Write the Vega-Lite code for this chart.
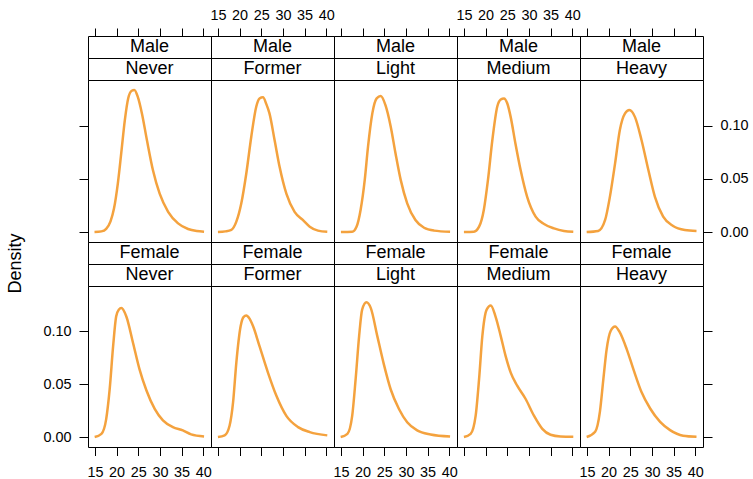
{
"$schema":"https://vega.github.io/schema/vega-lite/v6.json",
"padding":{"left":5,"top":6,"right":5,"bottom":5},
"config":{
 "view":{"stroke":"black","strokeWidth":1},
 "font":"Liberation Sans",
 "axis":{"domain":false,"grid":false,"tickColor":"black","tickWidth":1,"labelColor":"black","labelFontSize":14.4,"labelFont":"Liberation Sans","labelFlush":false,"labelOverlap":false,"labelBound":false,"titleFont":"Liberation Sans","titleFontSize":18,"titleFontWeight":"normal","titleColor":"black"},
 "axisX":{"tickSize":8,"labelPadding":6},
 "axisY":{"tickSize":9,"labelPadding":8,"format":".2f"},
 "line":{"color":"#F4A23E","strokeWidth":2.5,"interpolate":"monotone"},
 "text":{"fontSize":18,"font":"Liberation Sans","color":"black","baseline":"middle","align":"center"}
},
"datasets":{"d":[
{"s":"Male","k":"Never","x":14.9,"y":0},{"s":"Male","k":"Never","x":16.5,"y":0.0006},{"s":"Male","k":"Never","x":17.6,"y":0.003},{"s":"Male","k":"Never","x":18.6,"y":0.01},{"s":"Male","k":"Never","x":19.4,"y":0.022},{"s":"Male","k":"Never","x":20.3,"y":0.046},{"s":"Male","k":"Never","x":21.1,"y":0.075},{"s":"Male","k":"Never","x":21.9,"y":0.105},{"s":"Male","k":"Never","x":22.7,"y":0.126},{"s":"Male","k":"Never","x":23.5,"y":0.1328},{"s":"Male","k":"Never","x":24.1,"y":0.1335},{"s":"Male","k":"Never","x":24.9,"y":0.127},{"s":"Male","k":"Never","x":25.85,"y":0.1115},{"s":"Male","k":"Never","x":27.0,"y":0.0865},{"s":"Male","k":"Never","x":28.4,"y":0.058},{"s":"Male","k":"Never","x":29.95,"y":0.036},{"s":"Male","k":"Never","x":31.9,"y":0.019},{"s":"Male","k":"Never","x":34.2,"y":0.0081},{"s":"Male","k":"Never","x":36.5,"y":0.0028},{"s":"Male","k":"Never","x":38.5,"y":0.0009},{"s":"Male","k":"Never","x":40.2,"y":0.0003},
{"s":"Male","k":"Former","x":15.0,"y":0},{"s":"Male","k":"Former","x":16.7,"y":0.0006},{"s":"Male","k":"Former","x":18.1,"y":0.002},{"s":"Male","k":"Former","x":19.25,"y":0.0097},{"s":"Male","k":"Former","x":20.4,"y":0.027},{"s":"Male","k":"Former","x":21.55,"y":0.055},{"s":"Male","k":"Former","x":22.7,"y":0.0896},{"s":"Male","k":"Former","x":23.86,"y":0.118},{"s":"Male","k":"Former","x":24.6,"y":0.1255},{"s":"Male","k":"Former","x":25.4,"y":0.1266},{"s":"Male","k":"Former","x":26.2,"y":0.12},{"s":"Male","k":"Former","x":26.9,"y":0.1115},{"s":"Male","k":"Former","x":28.1,"y":0.086},{"s":"Male","k":"Former","x":29.25,"y":0.061},{"s":"Male","k":"Former","x":30.8,"y":0.036},{"s":"Male","k":"Former","x":32.7,"y":0.019},{"s":"Male","k":"Former","x":34.6,"y":0.0113},{"s":"Male","k":"Former","x":36.2,"y":0.005},{"s":"Male","k":"Former","x":38.1,"y":0.0013},{"s":"Male","k":"Former","x":40.25,"y":0.0002},
{"s":"Male","k":"Light","x":15.0,"y":0},{"s":"Male","k":"Light","x":17.6,"y":0.0003},{"s":"Male","k":"Light","x":18.6,"y":0.005},{"s":"Male","k":"Light","x":19.55,"y":0.021},{"s":"Male","k":"Light","x":20.5,"y":0.049},{"s":"Male","k":"Light","x":21.25,"y":0.08},{"s":"Male","k":"Light","x":22.25,"y":0.1115},{"s":"Male","k":"Light","x":23.25,"y":0.1256},{"s":"Male","k":"Light","x":24.2,"y":0.1278},{"s":"Male","k":"Light","x":25.3,"y":0.119},{"s":"Male","k":"Light","x":26.5,"y":0.099},{"s":"Male","k":"Light","x":27.6,"y":0.074},{"s":"Male","k":"Light","x":28.8,"y":0.049},{"s":"Male","k":"Light","x":30.3,"y":0.027},{"s":"Male","k":"Light","x":32.2,"y":0.0113},{"s":"Male","k":"Light","x":34.2,"y":0.004},{"s":"Male","k":"Light","x":36.5,"y":0.0013},{"s":"Male","k":"Light","x":40.2,"y":0.0002},
{"s":"Male","k":"Medium","x":15.0,"y":0},{"s":"Male","k":"Medium","x":17.3,"y":0.0003},{"s":"Male","k":"Medium","x":18.5,"y":0.005},{"s":"Male","k":"Medium","x":19.6,"y":0.021},{"s":"Male","k":"Medium","x":20.55,"y":0.049},{"s":"Male","k":"Medium","x":21.55,"y":0.086},{"s":"Male","k":"Medium","x":22.7,"y":0.118},{"s":"Male","k":"Medium","x":23.5,"y":0.1245},{"s":"Male","k":"Medium","x":24.25,"y":0.1256},{"s":"Male","k":"Medium","x":25.0,"y":0.121},{"s":"Male","k":"Medium","x":25.8,"y":0.108},{"s":"Male","k":"Medium","x":26.9,"y":0.083},{"s":"Male","k":"Medium","x":28.1,"y":0.058},{"s":"Male","k":"Medium","x":29.6,"y":0.033},{"s":"Male","k":"Medium","x":31.55,"y":0.0144},{"s":"Male","k":"Medium","x":33.5,"y":0.0075},{"s":"Male","k":"Medium","x":35.8,"y":0.0034},{"s":"Male","k":"Medium","x":38.1,"y":0.001},{"s":"Male","k":"Medium","x":40.25,"y":0.0002},
{"s":"Male","k":"Heavy","x":14.94,"y":0},{"s":"Male","k":"Heavy","x":17.6,"y":0.001},{"s":"Male","k":"Heavy","x":19.2,"y":0.0113},{"s":"Male","k":"Heavy","x":20.3,"y":0.033},{"s":"Male","k":"Heavy","x":21.5,"y":0.0645},{"s":"Male","k":"Heavy","x":22.6,"y":0.0959},{"s":"Male","k":"Heavy","x":23.8,"y":0.1115},{"s":"Male","k":"Heavy","x":24.8,"y":0.1147},{"s":"Male","k":"Heavy","x":26.1,"y":0.108},{"s":"Male","k":"Heavy","x":27.6,"y":0.0865},{"s":"Male","k":"Heavy","x":29.2,"y":0.058},{"s":"Male","k":"Heavy","x":30.7,"y":0.033},{"s":"Male","k":"Heavy","x":32.6,"y":0.0144},{"s":"Male","k":"Heavy","x":34.9,"y":0.0056},{"s":"Male","k":"Heavy","x":37.6,"y":0.0019},{"s":"Male","k":"Heavy","x":40.3,"y":0.001},
{"s":"Female","k":"Never","x":14.94,"y":0},{"s":"Female","k":"Never","x":16.5,"y":0.003},{"s":"Female","k":"Never","x":17.6,"y":0.017},{"s":"Female","k":"Never","x":18.4,"y":0.045},{"s":"Female","k":"Never","x":19.2,"y":0.086},{"s":"Female","k":"Never","x":19.9,"y":0.114},{"s":"Female","k":"Never","x":20.5,"y":0.1205},{"s":"Female","k":"Never","x":21.1,"y":0.122},{"s":"Female","k":"Never","x":22.25,"y":0.114},{"s":"Female","k":"Never","x":23.8,"y":0.089},{"s":"Female","k":"Never","x":25.3,"y":0.064},{"s":"Female","k":"Never","x":26.9,"y":0.044},{"s":"Female","k":"Never","x":28.8,"y":0.0266},{"s":"Female","k":"Never","x":30.7,"y":0.0157},{"s":"Female","k":"Never","x":33.0,"y":0.0094},{"s":"Female","k":"Never","x":35.3,"y":0.0063},{"s":"Female","k":"Never","x":37.2,"y":0.0025},{"s":"Female","k":"Never","x":40.2,"y":0.0006},
{"s":"Female","k":"Former","x":15.0,"y":0},{"s":"Female","k":"Former","x":16.55,"y":0.0016},{"s":"Female","k":"Former","x":17.7,"y":0.011},{"s":"Female","k":"Former","x":18.5,"y":0.033},{"s":"Female","k":"Former","x":19.25,"y":0.0705},{"s":"Female","k":"Former","x":20.25,"y":0.105},{"s":"Female","k":"Former","x":20.9,"y":0.1135},{"s":"Female","k":"Former","x":21.55,"y":0.115},{"s":"Female","k":"Former","x":22.3,"y":0.112},{"s":"Female","k":"Former","x":23.1,"y":0.105},{"s":"Female","k":"Former","x":24.6,"y":0.086},{"s":"Female","k":"Former","x":26.55,"y":0.061},{"s":"Female","k":"Former","x":28.5,"y":0.039},{"s":"Female","k":"Former","x":30.8,"y":0.02},{"s":"Female","k":"Former","x":33.5,"y":0.0094},{"s":"Female","k":"Former","x":36.2,"y":0.0047},{"s":"Female","k":"Former","x":40.25,"y":0.0016},
{"s":"Female","k":"Light","x":14.94,"y":0},{"s":"Female","k":"Light","x":16.5,"y":0.003},{"s":"Female","k":"Light","x":17.6,"y":0.02},{"s":"Female","k":"Light","x":18.4,"y":0.055},{"s":"Female","k":"Light","x":19.2,"y":0.0955},{"s":"Female","k":"Light","x":19.9,"y":0.1206},{"s":"Female","k":"Light","x":20.9,"y":0.1275},{"s":"Female","k":"Light","x":21.9,"y":0.122},{"s":"Female","k":"Light","x":23.4,"y":0.0955},{"s":"Female","k":"Light","x":24.9,"y":0.069},{"s":"Female","k":"Light","x":26.5,"y":0.045},{"s":"Female","k":"Light","x":28.4,"y":0.0266},{"s":"Female","k":"Light","x":30.3,"y":0.014},{"s":"Female","k":"Light","x":32.6,"y":0.0063},{"s":"Female","k":"Light","x":35.7,"y":0.0025},{"s":"Female","k":"Light","x":40.2,"y":0.0006},
{"s":"Female","k":"Medium","x":15.0,"y":0},{"s":"Female","k":"Medium","x":16.55,"y":0.003},{"s":"Female","k":"Medium","x":17.7,"y":0.02},{"s":"Female","k":"Medium","x":18.5,"y":0.055},{"s":"Female","k":"Medium","x":19.25,"y":0.0955},{"s":"Female","k":"Medium","x":20.25,"y":0.1206},{"s":"Female","k":"Medium","x":21.2,"y":0.1244},{"s":"Female","k":"Medium","x":22.3,"y":0.114},{"s":"Female","k":"Medium","x":23.5,"y":0.0955},{"s":"Female","k":"Medium","x":24.6,"y":0.077},{"s":"Female","k":"Medium","x":25.8,"y":0.061},{"s":"Female","k":"Medium","x":27.3,"y":0.0486},{"s":"Female","k":"Medium","x":29.25,"y":0.036},{"s":"Female","k":"Medium","x":31.2,"y":0.02},{"s":"Female","k":"Medium","x":33.1,"y":0.0078},{"s":"Female","k":"Medium","x":35.0,"y":0.0022},{"s":"Female","k":"Medium","x":37.3,"y":0.0006},{"s":"Female","k":"Medium","x":40.25,"y":0.0003},
{"s":"Female","k":"Heavy","x":14.94,"y":0},{"s":"Female","k":"Heavy","x":16.9,"y":0.005},{"s":"Female","k":"Heavy","x":18.0,"y":0.024},{"s":"Female","k":"Heavy","x":18.8,"y":0.055},{"s":"Female","k":"Heavy","x":19.55,"y":0.083},{"s":"Female","k":"Heavy","x":20.5,"y":0.1006},{"s":"Female","k":"Heavy","x":21.5,"y":0.1046},{"s":"Female","k":"Heavy","x":22.6,"y":0.099},{"s":"Female","k":"Heavy","x":24.2,"y":0.083},{"s":"Female","k":"Heavy","x":25.7,"y":0.0645},{"s":"Female","k":"Heavy","x":27.6,"y":0.0426},{"s":"Female","k":"Heavy","x":29.6,"y":0.027},{"s":"Female","k":"Heavy","x":31.9,"y":0.0144},{"s":"Female","k":"Heavy","x":34.2,"y":0.0066},{"s":"Female","k":"Heavy","x":37.2,"y":0.0013},{"s":"Female","k":"Heavy","x":40.3,"y":0.0003}
]},
"columns":5,"spacing":0,"bounds":"flush",
"concat":[
  {"width":123,"height":22,"view":{"style":"cell","stroke":"black","strokeWidth":1},"data":{"values":[{"label":"Male"}]},"mark":"text","encoding":{"text":{"field":"label"}}},
  {"width":123,"height":22,"view":{"style":"cell","stroke":"black","strokeWidth":1},"data":{"values":[{"label":"Male"}]},"mark":"text","encoding":{"text":{"field":"label"}}},
  {"width":123,"height":22,"view":{"style":"cell","stroke":"black","strokeWidth":1},"data":{"values":[{"label":"Male"}]},"mark":"text","encoding":{"text":{"field":"label"}}},
  {"width":123,"height":22,"view":{"style":"cell","stroke":"black","strokeWidth":1},"data":{"values":[{"label":"Male"}]},"mark":"text","encoding":{"text":{"field":"label"}}},
  {"width":123,"height":22,"view":{"style":"cell","stroke":"black","strokeWidth":1},"data":{"values":[{"label":"Male"}]},"mark":"text","encoding":{"text":{"field":"label"}}},
  {"width":123,"height":22,"view":{"style":"cell","stroke":"black","strokeWidth":1},"data":{"values":[{"label":"Never"}]},"mark":"text","encoding":{"text":{"field":"label"}}},
  {"width":123,"height":22,"view":{"style":"cell","stroke":"black","strokeWidth":1},"data":{"values":[{"label":"Former"}]},"mark":"text","encoding":{"text":{"field":"label"}}},
  {"width":123,"height":22,"view":{"style":"cell","stroke":"black","strokeWidth":1},"data":{"values":[{"label":"Light"}]},"mark":"text","encoding":{"text":{"field":"label"}}},
  {"width":123,"height":22,"view":{"style":"cell","stroke":"black","strokeWidth":1},"data":{"values":[{"label":"Medium"}]},"mark":"text","encoding":{"text":{"field":"label"}}},
  {"width":123,"height":22,"view":{"style":"cell","stroke":"black","strokeWidth":1},"data":{"values":[{"label":"Heavy"}]},"mark":"text","encoding":{"text":{"field":"label"}}},
  {"width":123,"height":162,"data":{"name":"d"},"transform":[{"filter":"datum.s==='Male' && datum.k==='Never'"}],"mark":"line",
   "encoding":{"x":{"field":"x","type":"quantitative","scale":{"domain":[13.4,41.8],"nice":false,"zero":false},"axis":{"orient":"top","offset":44,"values":[15,20,25,30,35,40],"labels":false,"title":null}},
   "y":{"field":"y","type":"quantitative","scale":{"domain":[-0.0094,0.1429],"nice":false,"zero":false},"axis":{"orient":"left","values":[0,0.05,0.1],"labels":false,"title":null}}}},
  {"width":123,"height":162,"data":{"name":"d"},"transform":[{"filter":"datum.s==='Male' && datum.k==='Former'"}],"mark":"line",
   "encoding":{"x":{"field":"x","type":"quantitative","scale":{"domain":[13.4,41.8],"nice":false,"zero":false},"axis":{"orient":"top","offset":44,"values":[15,20,25,30,35,40],"labels":true,"title":null}},
   "y":{"field":"y","type":"quantitative","scale":{"domain":[-0.0094,0.1429],"nice":false,"zero":false},"axis":null}}},
  {"width":123,"height":162,"data":{"name":"d"},"transform":[{"filter":"datum.s==='Male' && datum.k==='Light'"}],"mark":"line",
   "encoding":{"x":{"field":"x","type":"quantitative","scale":{"domain":[13.4,41.8],"nice":false,"zero":false},"axis":{"orient":"top","offset":44,"values":[15,20,25,30,35,40],"labels":false,"title":null}},
   "y":{"field":"y","type":"quantitative","scale":{"domain":[-0.0094,0.1429],"nice":false,"zero":false},"axis":null}}},
  {"width":123,"height":162,"data":{"name":"d"},"transform":[{"filter":"datum.s==='Male' && datum.k==='Medium'"}],"mark":"line",
   "encoding":{"x":{"field":"x","type":"quantitative","scale":{"domain":[13.4,41.8],"nice":false,"zero":false},"axis":{"orient":"top","offset":44,"values":[15,20,25,30,35,40],"labels":true,"title":null}},
   "y":{"field":"y","type":"quantitative","scale":{"domain":[-0.0094,0.1429],"nice":false,"zero":false},"axis":null}}},
  {"width":123,"height":162,"data":{"name":"d"},"transform":[{"filter":"datum.s==='Male' && datum.k==='Heavy'"}],"mark":"line",
   "encoding":{"x":{"field":"x","type":"quantitative","scale":{"domain":[13.4,41.8],"nice":false,"zero":false},"axis":{"orient":"top","offset":44,"values":[15,20,25,30,35,40],"labels":false,"title":null}},
   "y":{"field":"y","type":"quantitative","scale":{"domain":[-0.0094,0.1429],"nice":false,"zero":false},"axis":{"orient":"right","values":[0,0.05,0.1],"labels":true,"title":null}}}},
  {"width":123,"height":22,"view":{"style":"cell","stroke":"black","strokeWidth":1},"data":{"values":[{"label":"Female"}]},"mark":"text","encoding":{"text":{"field":"label"}}},
  {"width":123,"height":22,"view":{"style":"cell","stroke":"black","strokeWidth":1},"data":{"values":[{"label":"Female"}]},"mark":"text","encoding":{"text":{"field":"label"}}},
  {"width":123,"height":22,"view":{"style":"cell","stroke":"black","strokeWidth":1},"data":{"values":[{"label":"Female"}]},"mark":"text","encoding":{"text":{"field":"label"}}},
  {"width":123,"height":22,"view":{"style":"cell","stroke":"black","strokeWidth":1},"data":{"values":[{"label":"Female"}]},"mark":"text","encoding":{"text":{"field":"label"}}},
  {"width":123,"height":22,"view":{"style":"cell","stroke":"black","strokeWidth":1},"data":{"values":[{"label":"Female"}]},"mark":"text","encoding":{"text":{"field":"label"}}},
  {"width":123,"height":22,"view":{"style":"cell","stroke":"black","strokeWidth":1},"data":{"values":[{"label":"Never"}]},"mark":"text","encoding":{"text":{"field":"label"}}},
  {"width":123,"height":22,"view":{"style":"cell","stroke":"black","strokeWidth":1},"data":{"values":[{"label":"Former"}]},"mark":"text","encoding":{"text":{"field":"label"}}},
  {"width":123,"height":22,"view":{"style":"cell","stroke":"black","strokeWidth":1},"data":{"values":[{"label":"Light"}]},"mark":"text","encoding":{"text":{"field":"label"}}},
  {"width":123,"height":22,"view":{"style":"cell","stroke":"black","strokeWidth":1},"data":{"values":[{"label":"Medium"}]},"mark":"text","encoding":{"text":{"field":"label"}}},
  {"width":123,"height":22,"view":{"style":"cell","stroke":"black","strokeWidth":1},"data":{"values":[{"label":"Heavy"}]},"mark":"text","encoding":{"text":{"field":"label"}}},
  {"width":123,"height":161,"data":{"name":"d"},"transform":[{"filter":"datum.s==='Female' && datum.k==='Never'"}],"mark":"line",
   "encoding":{"x":{"field":"x","type":"quantitative","scale":{"domain":[13.4,41.8],"nice":false,"zero":false},"axis":{"orient":"bottom","offset":0.5,"labelPadding":10,"values":[15,20,25,30,35,40],"labels":true,"title":null}},
   "y":{"field":"y","type":"quantitative","scale":{"domain":[-0.0094,0.1429],"nice":false,"zero":false},"axis":{"orient":"left","values":[0,0.05,0.1],"labels":true,"title":"Density","titleX":-68,"titleY":-23,"titleAngle":270,"titleAlign":"center","titleBaseline":"alphabetic"}}}},
  {"width":123,"height":161,"data":{"name":"d"},"transform":[{"filter":"datum.s==='Female' && datum.k==='Former'"}],"mark":"line",
   "encoding":{"x":{"field":"x","type":"quantitative","scale":{"domain":[13.4,41.8],"nice":false,"zero":false},"axis":{"orient":"bottom","offset":0.5,"labelPadding":10,"values":[15,20,25,30,35,40],"labels":false,"title":null}},
   "y":{"field":"y","type":"quantitative","scale":{"domain":[-0.0094,0.1429],"nice":false,"zero":false},"axis":null}}},
  {"width":123,"height":161,"data":{"name":"d"},"transform":[{"filter":"datum.s==='Female' && datum.k==='Light'"}],"mark":"line",
   "encoding":{"x":{"field":"x","type":"quantitative","scale":{"domain":[13.4,41.8],"nice":false,"zero":false},"axis":{"orient":"bottom","offset":0.5,"labelPadding":10,"values":[15,20,25,30,35,40],"labels":true,"title":null}},
   "y":{"field":"y","type":"quantitative","scale":{"domain":[-0.0094,0.1429],"nice":false,"zero":false},"axis":null}}},
  {"width":123,"height":161,"data":{"name":"d"},"transform":[{"filter":"datum.s==='Female' && datum.k==='Medium'"}],"mark":"line",
   "encoding":{"x":{"field":"x","type":"quantitative","scale":{"domain":[13.4,41.8],"nice":false,"zero":false},"axis":{"orient":"bottom","offset":0.5,"labelPadding":10,"values":[15,20,25,30,35,40],"labels":false,"title":null}},
   "y":{"field":"y","type":"quantitative","scale":{"domain":[-0.0094,0.1429],"nice":false,"zero":false},"axis":null}}},
  {"width":123,"height":161,"data":{"name":"d"},"transform":[{"filter":"datum.s==='Female' && datum.k==='Heavy'"}],"mark":"line",
   "encoding":{"x":{"field":"x","type":"quantitative","scale":{"domain":[13.4,41.8],"nice":false,"zero":false},"axis":{"orient":"bottom","offset":0.5,"labelPadding":10,"values":[15,20,25,30,35,40],"labels":true,"title":null}},
   "y":{"field":"y","type":"quantitative","scale":{"domain":[-0.0094,0.1429],"nice":false,"zero":false},"axis":{"orient":"right","values":[0,0.05,0.1],"labels":false,"title":null}}}}
]
}
